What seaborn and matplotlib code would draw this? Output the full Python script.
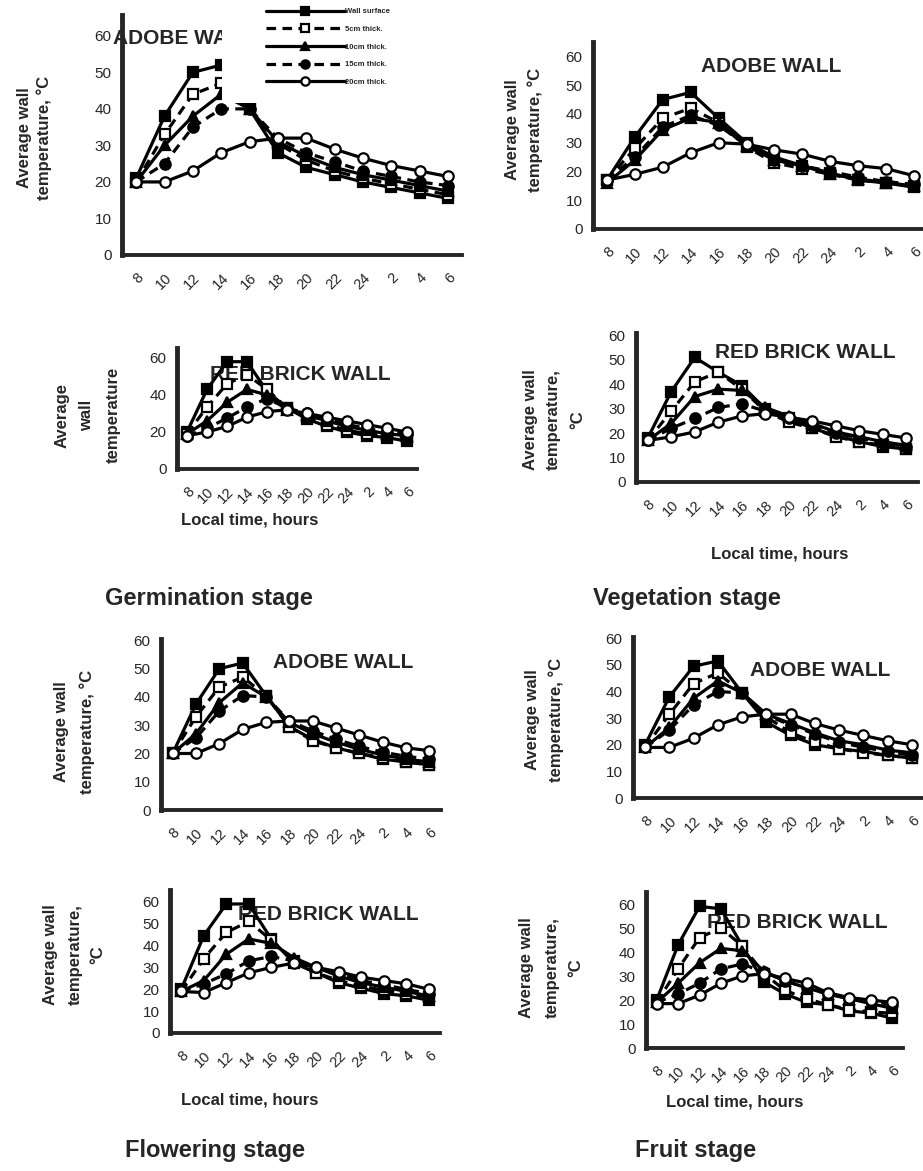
import numpy as np
import pandas as pd
import seaborn as sns
import matplotlib
matplotlib.use('Agg')
import matplotlib.pyplot as plt
import matplotlib.transforms as mtransforms
from matplotlib.patches import Rectangle
from matplotlib.ticker import MultipleLocator

# categories (local time) and series
hours = ['8', '10', '12', '14', '16', '18', '20', '22', '24', '2', '4', '6']
series = ['Wall surface', '5cm thick.', '10cm thick.', '15cm thick.', '20cm thick.']

# values, one row per series (wall, 5, 10, 15, 20 cm)
germ_adobe = [
    [21, 38, 50, 52, 40, 28, 24, 22, 20, 18.5, 17, 15.5],
    [20, 33, 44, 47, 40, 30.5, 26, 23, 21, 19.5, 18, 16.5],
    [20, 30, 38, 44, 40, 31, 27, 24, 22, 20.5, 19, 17.5],
    [20, 25, 35, 40, 40, 32, 28, 25.5, 23, 21.5, 20, 19],
    [20, 20, 23, 28, 31, 32, 32, 29, 26.5, 24.5, 23, 21.5],
]
veg_adobe = [
    [17, 32, 45, 47.5, 38.5, 30, 25, 22, 19.5, 17, 16, 14.5],
    [17, 28, 38.5, 42, 37, 28.5, 23, 21, 19, 17, 16, 15],
    [16, 24, 34.5, 38.5, 37, 29, 24, 22, 19, 17.5, 16, 15],
    [17, 25, 35.5, 39.5, 36, 29, 24, 22, 20, 18, 16.5, 15.5],
    [17, 19, 21.5, 26.5, 30, 29.5, 27.5, 26, 23.5, 22, 21, 18.5],
]
germ_brick = [
    [20, 43, 58, 58, 42, 33, 27, 23, 20, 18, 17, 15],
    [19, 33.5, 46, 51, 43, 33, 28, 24, 21, 19, 18, 17],
    [19, 26, 36, 43, 40, 32, 29, 26, 23, 21, 19, 18],
    [18, 22, 27.5, 33.5, 38, 33, 30, 27, 24, 22, 20, 19],
    [18, 20, 23, 28, 31, 32, 30, 28, 26, 24, 22, 20],
]
veg_brick = [
    [18, 37, 51, 45, 39.5, 30, 26, 22, 19, 16.5, 14.5, 13.5],
    [17, 29, 41, 45, 38, 29, 24.5, 22, 18.5, 16.5, 15, 13.5],
    [17, 24, 35, 38, 37.5, 30.5, 27, 24, 20.5, 18.5, 16.5, 15],
    [17, 22, 26, 30.5, 32, 29, 26, 23, 20, 18, 16, 14.5],
    [17, 18.5, 20.5, 24.5, 27, 28, 26.5, 25, 23, 21, 19.5, 18],
]
flow_adobe = [
    [20, 37.5, 50, 52, 40.5, 29.5, 25, 22, 20, 18, 17, 16],
    [20, 33, 43.5, 47, 40.5, 29.5, 24.5, 22, 20, 18.5, 17, 16],
    [20, 27, 38, 45, 40, 31, 27, 24, 21.5, 19.5, 18, 17],
    [20, 25.5, 35, 40.5, 40, 31.5, 28, 25, 22.5, 20.5, 19, 18],
    [20, 20, 23.5, 28.5, 31, 31.5, 31.5, 29, 26.5, 24, 22, 21],
]
fruit_adobe = [
    [20, 38, 49.5, 51.5, 39.5, 28.5, 23.5, 20, 18.5, 17.5, 16, 15],
    [19, 31.5, 43, 47, 39.5, 30.5, 24.5, 21, 18.5, 17, 16, 15],
    [19, 26.5, 37.5, 44, 39.5, 31.5, 28, 24.5, 21.5, 20, 18, 17],
    [19, 25.5, 35, 40, 39.5, 31, 27.5, 24, 21, 19, 17.5, 16],
    [19, 19, 22.5, 27.5, 30.5, 31.5, 31.5, 28, 25.5, 23.5, 21.5, 20],
]
flow_brick = [
    [20, 44.5, 59, 59, 43, 32, 27.5, 23, 20.5, 18, 17, 15],
    [19, 34, 46, 51, 42.5, 33, 27.5, 24, 21.5, 19.5, 18, 16.5],
    [19, 24, 36, 43, 41, 34.5, 30, 26, 23, 21, 19, 17],
    [19, 22.5, 27, 33, 35, 33, 30, 27, 24, 22, 20, 18],
    [19, 18.5, 23, 27.5, 30, 32, 30, 28, 25.5, 24, 22.5, 20],
]
fruit_brick = [
    [20, 43, 59, 58, 42.5, 27.5, 22.5, 19, 18, 15.5, 14.5, 12.5],
    [19, 33, 46, 50, 42.5, 31, 24, 20.5, 18, 16, 15, 14.5],
    [19, 27, 35.5, 41.5, 40.5, 32, 28, 25, 22.5, 20.5, 18.5, 16.5],
    [19, 22.5, 27, 33, 35, 31.5, 28, 25, 22.5, 20.5, 19.5, 18],
    [18.5, 18.5, 22, 27, 30, 31, 29, 27, 23, 21, 20, 19],
]

sns.set_style('white')
plt.rcParams['font.family'] = ['Liberation Sans', 'DejaVu Sans']

W, H = 923, 1171
fig = plt.figure(figsize=(W / 100, H / 100), dpi=100)


def fx(x):
    return x / W


def fy(y):
    return 1 - y / H


styles = [
    dict(ls='-', marker='s', ms=6.5, mfc='black'),
    dict(ls=(0, (3, 2)), marker='s', ms=7.5, mfc='white'),
    dict(ls='-', marker='^', ms=7, mfc='black'),
    dict(ls=(0, (3, 2)), marker='o', ms=7.5, mfc='black'),
    dict(ls='-', marker='o', ms=7.5, mfc='white'),
]

# rotated labels sit a little left of their category
shift = mtransforms.ScaledTranslation(-5 / 100, 0, fig.dpi_scale_trans)


# one Excel-like chart, box given in pixels (left, right, top, bottom)
def panel(vals, box, ytop, ystep):
    l, r, t, b = box
    ax = fig.add_axes([fx(l), fy(b), (r - l) / W, (b - t) / H])
    x = np.arange(len(hours))
    for v, st in zip(vals, styles):
        df = pd.DataFrame({'x': x, 'y': v})
        sns.lineplot(data=df, x='x', y='y', ax=ax, color='black', lw=2.3,
                     linestyle=st['ls'], marker=st['marker'], markersize=st['ms'],
                     markerfacecolor=st['mfc'], markeredgecolor='black',
                     markeredgewidth=1.6, zorder=3, clip_on=False)
    ax.set_xlim(-0.5, len(hours) - 0.5)
    ax.set_ylim(0, ytop)
    ax.set_xlabel('')
    ax.set_ylabel('')
    ax.set_yticks(np.arange(0, 61, ystep))
    ax.yaxis.set_minor_locator(MultipleLocator(1))
    ax.set_xticks(x)
    ax.set_xticks(np.arange(-0.5, len(hours), 0.5), minor=True)
    ax.xaxis.remove_overlapping_locs = False
    ax.set_xticklabels(hours, rotation=45, ha='right', rotation_mode='anchor')
    for lab in ax.get_xticklabels():
        lab.set_transform(lab.get_transform() + shift)
    ax.tick_params(axis='y', which='both', direction='inout', length=5, width=1.5,
                   labelsize=11, pad=5)
    ax.tick_params(axis='x', which='major', length=0, labelsize=10.5, pad=11)
    ax.tick_params(axis='x', which='minor', direction='in', length=3.5, width=2.2)
    for s in ['top', 'right']:
        ax.spines[s].set_visible(False)
    ax.spines['left'].set_linewidth(3.5)
    ax.spines['bottom'].set_linewidth(2.8)
    ax.patch.set_alpha(0)
    return ax


def title(ax, s, x, y, size=15, ha='left'):
    ax.text(fx(x), fy(y), s, transform=fig.transFigure, ha=ha, va='center',
            fontsize=size, fontweight='bold', zorder=1)


def ylab(lines, xs, yc, size=12):
    for s, x in zip(lines, xs):
        fig.text(fx(x), fy(yc), s, rotation=90, ha='center', va='center',
                 fontsize=size, fontweight='bold')


def label(s, x, y, size=12, ha='center'):
    fig.text(fx(x), fy(y), s, ha=ha, va='center', fontsize=size, fontweight='bold')


# Germination, adobe
ax1 = panel(germ_adobe, (122, 462, 15, 255), 65.7, 10)
title(ax1, 'ADOBE WALL', 113, 38)
ylab(['Average wall', 'temperature, °C'], [25, 44], 138)

# Vegetation, adobe
ax2 = panel(veg_adobe, (593, 928, 42, 229), 65, 10)
title(ax2, 'ADOBE WALL', 771, 67, ha='center')
ylab(['Average wall', 'temperature, °C'], [512, 535], 130)

# Germination, red brick
ax3 = panel(germ_brick, (177, 417, 348, 469), 65.4, 20)
title(ax3, 'RED BRICK WALL', 210, 375)
ylab(['Average', 'wall', 'temperature'], [62, 87, 113], 415)
label('Local time, hours', 250, 520)

# Vegetation, red brick
ax4 = panel(veg_brick, (636, 918, 333, 482), 61, 10)
title(ax4, 'RED BRICK WALL', 715, 353)
ylab(['Average wall', 'temperature,', '°C'], [530, 553, 578], 420)
label('Local time, hours', 780, 554)

label('Germination stage', 105, 598, size=17, ha='left')
label('Vegetation stage', 593, 598, size=17, ha='left')

# Flowering, adobe
ax5 = panel(flow_adobe, (161, 441, 639, 810), 60.5, 10)
title(ax5, 'ADOBE WALL', 273, 662)
ylab(['Average wall', 'temperature, °C'], [62, 87], 732)

# Fruit, adobe
ax6 = panel(fruit_adobe, (633, 924, 637, 798), 60.5, 10)
title(ax6, 'ADOBE WALL', 750, 670)
ylab(['Average wall', 'temperature, °C'], [533, 556], 720)

# Flowering, red brick
ax7 = panel(flow_brick, (170, 440, 890, 1033), 65.4, 10)
title(ax7, 'RED BRICK WALL', 238, 915)
ylab(['Average wall', 'temperature,', '°C'], [50, 75, 98], 955)
label('Local time, hours', 250, 1100)

# Fruit, red brick
ax8 = panel(fruit_brick, (646, 903, 892, 1048), 65, 10)
title(ax8, 'RED BRICK WALL', 707, 922)
ylab(['Average wall', 'temperature,', '°C'], [527, 552, 576], 968)
label('Local time, hours', 735, 1102)

label('Flowering stage', 125, 1150, size=17, ha='left')
label('Fruit stage', 635, 1150, size=17, ha='left')

# legend of the first chart sits on a white box that hides part of the plot
fig.add_artist(Rectangle((fx(222), fy(103)), (470 - 222) / W, 103 / H,
                         transform=fig.transFigure, facecolor='white',
                         edgecolor='none', zorder=5))
leg = fig.legend(handles=ax1.get_lines()[:5], labels=series, loc='upper left',
                 bbox_to_anchor=(fx(266), fy(8)), frameon=False, fontsize=5.5,
                 handlelength=10.3, handleheight=0.7, labelspacing=1.35,
                 handletextpad=0.1, borderpad=0, borderaxespad=0, markerscale=0.8)
leg.set_zorder(6)
for t in leg.get_texts():
    t.set_fontweight('bold')

fig.savefig('out.png', dpi=100)
